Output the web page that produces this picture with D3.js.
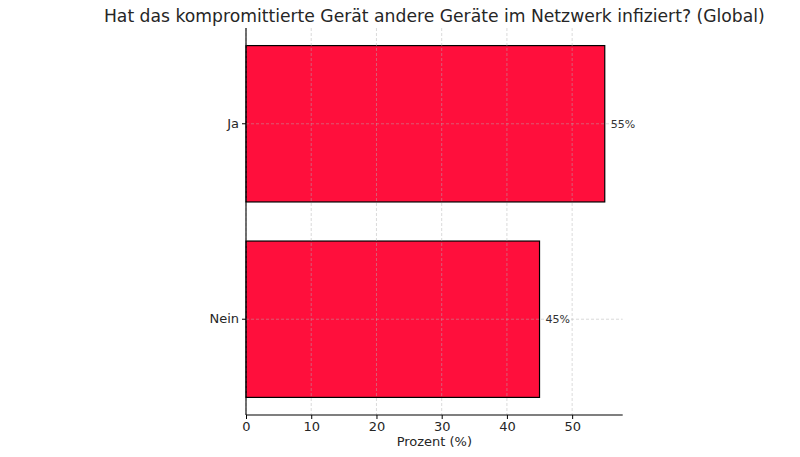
<!DOCTYPE html>
<html>
<head>
<meta charset="utf-8">
<script src="https://cdn.jsdelivr.net/npm/d3@7"></script>
<style>
  body { margin: 0; background: #fff; }
  svg text { font-family: "DejaVu Sans", sans-serif; fill: #262626; }
</style>
</head>
<body>
<div id="chart"></div>
<script>
// Data
const categories = ["Ja", "Nein"];
const values = [55, 45];
const xTicks = [0, 10, 20, 30, 40, 50];

const w = 800, h = 457;
const plotLeft = 246, plotRight = 622.7, plotTop = 28, plotBottom = 415;

const svg = d3.select("#chart").append("svg")
  .attr("width", w).attr("height", h);

const xScale = d3.scaleLinear()
  .domain([0, d3.max(values) * 1.05])
  .range([plotLeft, plotRight]);

const yScale = d3.scaleBand()
  .domain(categories)
  .range([plotTop, plotBottom])
  .paddingInner(0.2)
  .paddingOuter(0.09);

// Bars
svg.selectAll("rect.bar")
  .data(categories)
  .enter()
  .append("rect")
  .attr("class", "bar")
  .attr("x", xScale(0))
  .attr("y", d => yScale(d))
  .attr("width", (d, i) => xScale(values[i]) - xScale(0))
  .attr("height", yScale.bandwidth())
  .style("fill", "#ff0f3c")
  .style("stroke", "#000")
  .style("stroke-width", 1.2);

// Grid (drawn over the bars)
const grid = svg.append("g");
grid.selectAll("line.vx")
  .data(xTicks)
  .enter()
  .append("line")
  .attr("x1", d => xScale(d)).attr("x2", d => xScale(d))
  .attr("y1", plotTop).attr("y2", plotBottom)
  .style("stroke", "#b0b0b0")
  .style("stroke-opacity", 0.6)
  .style("stroke-width", 0.8)
  .style("stroke-dasharray", "3,2");
grid.selectAll("line.hy")
  .data(categories)
  .enter()
  .append("line")
  .attr("x1", plotLeft).attr("x2", plotRight)
  .attr("y1", d => yScale(d) + yScale.bandwidth() / 2)
  .attr("y2", d => yScale(d) + yScale.bandwidth() / 2)
  .style("stroke", "#b0b0b0")
  .style("stroke-opacity", 0.6)
  .style("stroke-width", 0.8)
  .style("stroke-dasharray", "3,2");

// Axes
const xAxis = d3.axisBottom(xScale).tickValues(xTicks).tickSize(4).tickPadding(3);
const gx = svg.append("g")
  .attr("transform", `translate(0, ${plotBottom})`)
  .call(xAxis);
gx.select(".domain").attr("d", `M${plotLeft},0H${plotRight}`).style("stroke", "#000").style("stroke-width", 1.1);
gx.selectAll("text").style("font-size", "13px").style("font-family", "DejaVu Sans");

const yAxis = d3.axisLeft(yScale).tickSize(4).tickPadding(3);
const gy = svg.append("g")
  .attr("transform", `translate(${plotLeft}, 0)`)
  .call(yAxis);
gy.select(".domain").attr("d", `M0,${plotTop}V${plotBottom}`).style("stroke", "#000").style("stroke-width", 1.1);
gy.selectAll("text").style("font-size", "13px").style("font-family", "DejaVu Sans");

// Value labels
svg.selectAll("text.val")
  .data(categories)
  .enter()
  .append("text")
  .attr("class", "val")
  .attr("x", (d, i) => xScale(values[i]) + 6)
  .attr("y", d => yScale(d) + yScale.bandwidth() / 2)
  .attr("dy", "0.35em")
  .style("font-size", "11px")
  .style("fill", "#333")
  .text((d, i) => values[i] + "%");

// Axis label
svg.append("text")
  .attr("x", (plotLeft + plotRight) / 2)
  .attr("y", 446)
  .attr("text-anchor", "middle")
  .style("font-size", "13px")
  .text("Prozent (%)");

// Title
svg.append("text")
  .attr("x", (plotLeft + plotRight) / 2)
  .attr("y", 22)
  .attr("text-anchor", "middle")
  .style("font-size", "17.2px")
  .text("Hat das kompromittierte Gerät andere Geräte im Netzwerk infiziert? (Global)");
</script>
</body>
</html>
